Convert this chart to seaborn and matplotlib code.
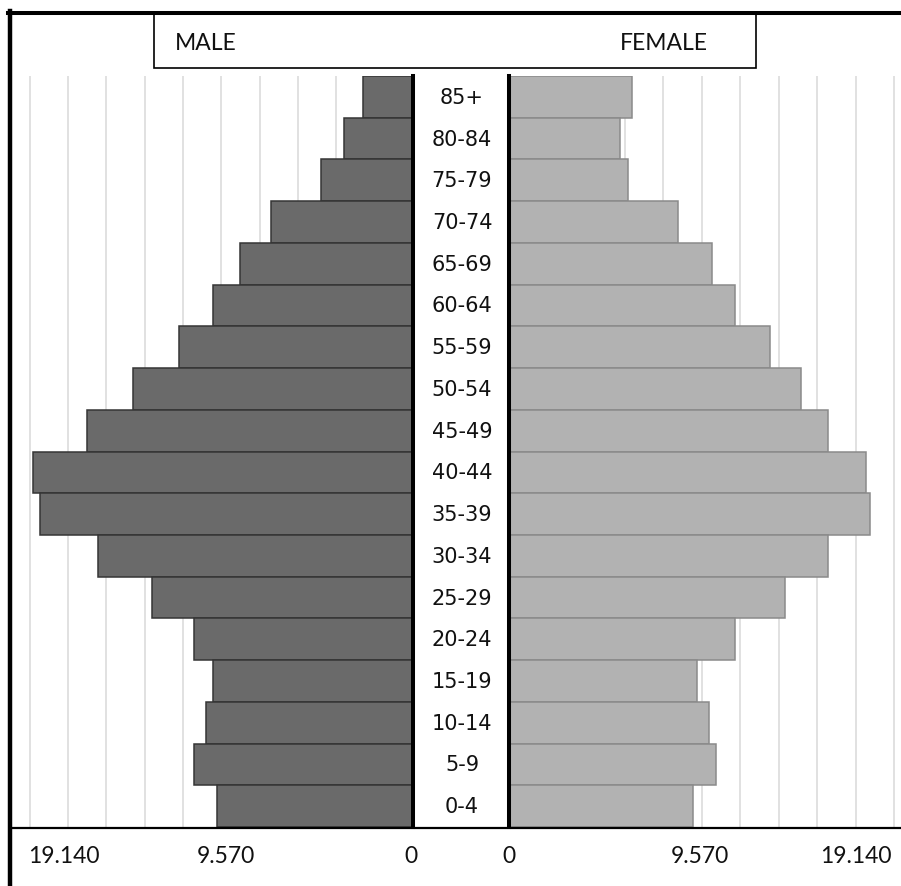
import numpy as np
import pandas as pd
import matplotlib
matplotlib.use("Agg")
import matplotlib.pyplot as plt
import seaborn as sns
from matplotlib.lines import Line2D
from matplotlib.patches import Rectangle
from matplotlib.transforms import blended_transform_factory

# ---------------- data ----------------
age_groups = ["0-4", "5-9", "10-14", "15-19", "20-24", "25-29", "30-34", "35-39",
              "40-44", "45-49", "50-54", "55-59", "60-64", "65-69", "70-74",
              "75-79", "80-84", "85+"]
male = [10225, 11425, 10799, 10418, 11425, 13632, 16434, 19443,
        19825, 17023, 14623, 12208, 10418, 9025, 7408, 4800, 3600, 2593]
female = [9548, 10764, 10364, 9756, 11750, 14348, 16546, 18744,
          18536, 16546, 15143, 13569, 11750, 10556, 8770, 6172, 5777, 6380]
axis_labels_left = ["19.140", "9.570", "0"]
axis_labels_right = ["0", "9.570", "19.140"]
series_names = ["MALE", "FEMALE"]
grid_values = list(range(2000, 20001, 2000))

order = age_groups[::-1]
df = pd.DataFrame({"age": age_groups, "male": male, "female": female})

# ---------------- layout (pixels) ----------------
W, H = 901, 887
DPI = 100
fig = plt.figure(figsize=(W / DPI, H / DPI), dpi=DPI)
fig.patch.set_facecolor("white")

def fx(px):
    return px / W

def fy(py):
    return 1 - py / H

top_px, bot_px = 77, 828
m_left, m_zero = 12, 413
f_zero, f_right = 509, 901
m_scale = 2000 / 38.33
f_scale = 2000 / 38.5

ax_m = fig.add_axes([fx(m_left), fy(bot_px), fx(m_zero - m_left), (bot_px - top_px) / H])
ax_f = fig.add_axes([fx(f_zero), fy(bot_px), fx(f_right - f_zero), (bot_px - top_px) / H])

male_color, male_edge = "#6a6a6a", "#353535"
female_color, female_edge = "#b2b2b2", "#8a8a8a"

sns.barplot(data=df, x="male", y="age", order=order, orient="h", ax=ax_m,
            color=male_color, edgecolor=male_edge, linewidth=1.1,
            width=1.0, saturation=1, errorbar=None)
sns.barplot(data=df, x="female", y="age", order=order, orient="h", ax=ax_f,
            color=female_color, edgecolor=female_edge, linewidth=1.1,
            width=1.0, saturation=1, errorbar=None)

ax_m.set_xlim((m_zero - m_left) * m_scale, 0)
ax_f.set_xlim(0, (f_right - f_zero) * f_scale)

for ax in (ax_m, ax_f):
    ax.set_ylim(len(order) - 0.5, -0.5)
    ax.set_xticks(grid_values)
    ax.set_xticklabels([])
    ax.tick_params(axis="both", length=0, labelleft=False, labelbottom=False)
    ax.set_yticks([])
    ax.set_xlabel("")
    ax.set_ylabel("")
    ax.grid(axis="x", color="#d9d9d9", linewidth=1.1)
    ax.grid(axis="y", visible=False)
    ax.set_axisbelow(True)
    for s in ax.spines.values():
        s.set_visible(False)
    ax.set_facecolor("none")

# vertical zero axis lines
ax_m.axvline(0, color="black", linewidth=2.9, clip_on=False, zorder=5)
ax_f.axvline(0, color="black", linewidth=2.9, clip_on=False, zorder=5)

# age labels in the middle column
trans = blended_transform_factory(fig.transFigure, ax_m.transData)
mid_x = fx((m_zero + f_zero) / 2 + 1)
for i, lab in enumerate(order):
    fig.text(mid_x, i, lab, transform=trans, ha="center", va="center",
             fontsize=15, family="DejaVu Sans", color="#111111")

# frame lines
fig.add_artist(Line2D([fx(8), fx(W)], [fy(14), fy(14)], color="black",
                      linewidth=2.9, transform=fig.transFigure))
fig.add_artist(Line2D([fx(10), fx(10)], [fy(12), fy(H)], color="black",
                      linewidth=3.2, transform=fig.transFigure))
fig.add_artist(Line2D([fx(10), fx(W)], [fy(829), fy(829)], color="black",
                      linewidth=1.6, transform=fig.transFigure))

# legend-like header box
fig.add_artist(Rectangle((fx(154), fy(69)), fx(756 - 154), (69 - 15) / H,
                         fill=False, edgecolor="black", linewidth=1.2,
                         transform=fig.transFigure))
fig.text(fx(175), fy(43), series_names[0], ha="left", va="center",
         fontsize=16.5, family="Lato", color="#111111")
fig.text(fx(664), fy(43), series_names[1], ha="center", va="center",
         fontsize=16.5, family="Lato", color="#111111")

# bottom value labels
left_pos = [64, 226, 411]
right_pos = [509, 700, 856]
for lab, p in zip(axis_labels_left, left_pos):
    fig.text(fx(p), fy(857), lab, ha="center", va="center",
             fontsize=16.5, family="Lato", color="#111111")
for lab, p in zip(axis_labels_right, right_pos):
    fig.text(fx(p), fy(857), lab, ha="center", va="center",
             fontsize=16.5, family="Lato", color="#111111")

fig.savefig("out.png", dpi=DPI, facecolor="white")
